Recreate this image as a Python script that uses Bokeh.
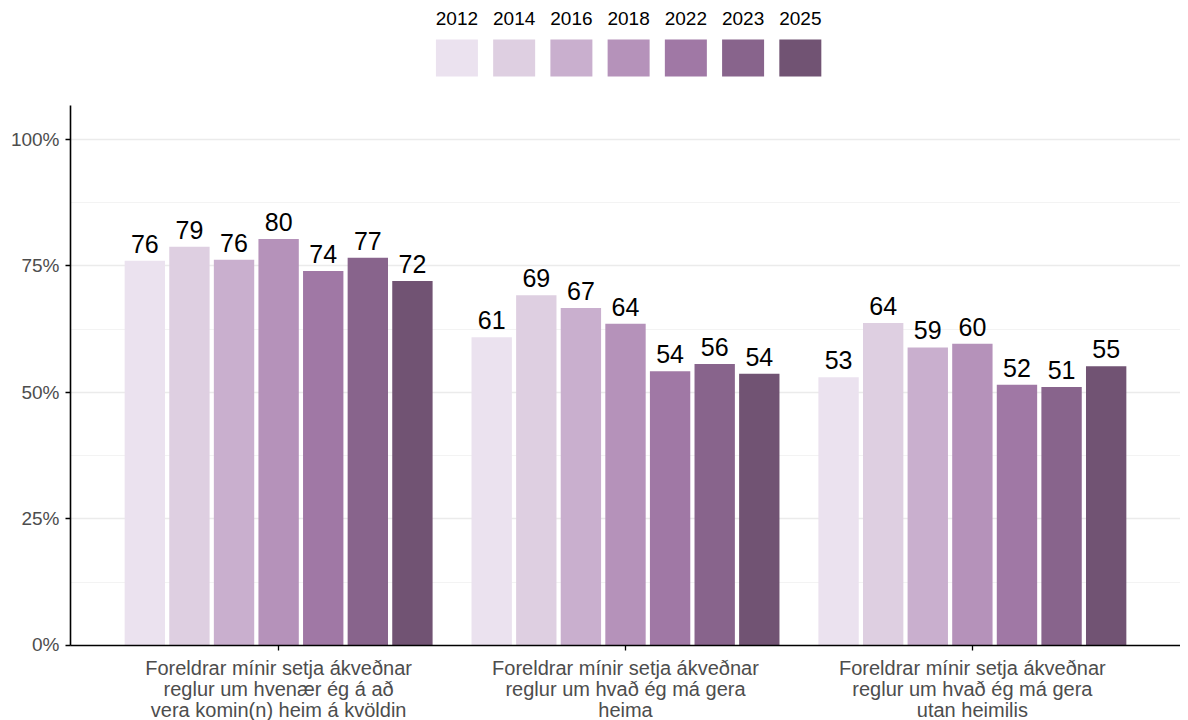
from bokeh.plotting import figure
from bokeh.models import Range1d, FixedTicker, PrintfTickFormatter, ColumnDataSource
from bokeh.layouts import column
from bokeh.core.properties import value
from bokeh.embed import file_html
from bokeh.resources import INLINE

# ---- data ----
categories = [
    "Foreldrar mínir setja ákveðnar\nreglur um hvenær ég á að\nvera komin(n) heim á kvöldin",
    "Foreldrar mínir setja ákveðnar\nreglur um hvað ég má gera\nheima",
    "Foreldrar mínir setja ákveðnar\nreglur um hvað ég má gera\nutan heimilis",
]
years = ["2012", "2014", "2016", "2018", "2022", "2023", "2025"]
colors = ["#EBE2EF", "#DECFE1", "#C9AFCE", "#B592BA", "#A078A5", "#88648C", "#715373"]
cat1_values = [76.0, 78.8, 76.2, 80.3, 74.0, 76.6, 72.0]
cat2_values = [60.9, 69.2, 66.7, 63.6, 54.2, 55.6, 53.7]
cat3_values = [53.0, 63.7, 58.9, 59.6, 51.5, 51.1, 55.2]
y_ticks = [0, 25, 50, 75, 100]
y_minor = [12.5, 37.5, 62.5, 87.5]

values_by_cat = [cat1_values, cat2_values, cat3_values]
cat_pos = [1, 2, 3]

FONT = "Liberation Sans"
W = 1180

x_range = Range1d(0.4, 3.6)

# ---- main plot ----
p = figure(width=W, height=554, output_backend="svg", toolbar_location=None,
           x_range=x_range, y_range=Range1d(0, 106.7),
           min_border_left=70, min_border_right=0, min_border_top=5, min_border_bottom=9)
p.outline_line_color = None
p.background_fill_color = "white"

dodge = 0.9
slot = dodge / len(years)
for i, (yr, col) in enumerate(zip(years, colors)):
    xs = [c + (i - (len(years) - 1) / 2) * slot for c in cat_pos]
    vals = [vc[i] for vc in values_by_cat]
    src = ColumnDataSource(dict(x=xs, top=vals, lab=[str(int(round(v))) for v in vals]))
    p.vbar(x="x", top="top", bottom=0, width=slot * 0.905, source=src,
           fill_color=col, line_color=None)
    p.text(x="x", y="top", text="lab", source=src, text_align="center",
           text_baseline="bottom", y_offset=-8, text_font=value(FONT),
           text_font_size="25px", text_color="black")

p.xgrid.grid_line_color = None
p.yaxis.ticker = FixedTicker(ticks=y_ticks, minor_ticks=y_minor)
p.ygrid.ticker = FixedTicker(ticks=y_ticks, minor_ticks=y_minor)
p.ygrid.grid_line_color = "#EBEBEB"
p.ygrid.grid_line_width = 1.5
p.ygrid.minor_grid_line_color = "#F3F3F3"
p.ygrid.minor_grid_line_width = 1

p.yaxis.formatter = PrintfTickFormatter(format="%d%%")
p.xaxis.ticker = FixedTicker(ticks=cat_pos)
p.xaxis.major_label_overrides = {c: " " for c in cat_pos}
p.xaxis.major_label_text_font_size = "1px"
p.xaxis.major_label_standoff = 0

for ax in (p.xaxis[0], p.yaxis[0]):
    ax.axis_line_color = "black"
    ax.axis_line_width = 1.6
    ax.major_tick_line_color = "black"
    ax.major_tick_line_width = 1.3
    ax.major_tick_out = 5
    ax.major_tick_in = 0
    ax.minor_tick_line_color = None
    ax.major_label_text_font = FONT
    ax.major_label_text_color = "#4D4D4D"
p.yaxis.major_label_text_font_size = "19px"
p.yaxis.major_label_standoff = 6

# ---- category labels below the axis ----
LAB_H = 66
lab = figure(width=W, height=LAB_H, output_backend="svg", toolbar_location=None,
             x_range=x_range, y_range=Range1d(LAB_H, 0),
             min_border_left=70, min_border_right=0, min_border_top=0, min_border_bottom=0)
lab.axis.visible = False
lab.grid.grid_line_color = None
lab.outline_line_color = None
line_x, line_y, line_t = [], [], []
for c, txt in zip(cat_pos, categories):
    for k, ln in enumerate(txt.split("\n")):
        line_x.append(c)
        line_y.append(13.6 + 21 * k)
        line_t.append(ln)
lab.text(x=line_x, y=line_y, text=line_t, text_align="center", text_baseline="middle",
         text_font=value(FONT), text_font_size="20px", text_color="#4D4D4D")

# ---- legend (keys above plot) ----
leg = figure(width=W, height=100, output_backend="svg", toolbar_location=None,
             x_range=x_range, y_range=Range1d(100, 0),
             min_border_left=70, min_border_right=0, min_border_top=0, min_border_bottom=0)
leg.axis.visible = False
leg.grid.grid_line_color = None
leg.outline_line_color = None
spacing = 0.165
lx = [2.009 + (i - (len(years) - 1) / 2) * spacing for i in range(len(years))]
lsrc = ColumnDataSource(dict(x=lx, yr=years, c=colors))
leg.rect(x="x", y=57.5, width=42, height=37, width_units="screen", height_units="screen",
         fill_color="c", line_color=None, source=lsrc)
leg.text(x="x", y=18, text="yr", source=lsrc, text_align="center", text_baseline="middle",
         text_font=value(FONT), text_font_size="19px", text_color="black")

layout = column(leg, p, lab, spacing=0)
open("out.html", "w").write(file_html(layout, INLINE))
